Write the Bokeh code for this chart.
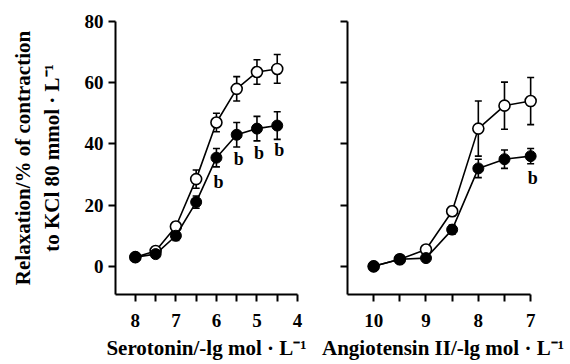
from bokeh.plotting import figure
from bokeh.layouts import row
from bokeh.models import (Range1d, FixedTicker, Whisker, ColumnDataSource, TeeHead,
                          CustomJSTickFormatter, LinearAxis)
from bokeh.core.properties import value
from bokeh.embed import file_html
from bokeh.resources import INLINE

# ---- data ----
ser_x = [8, 7.5, 7, 6.5, 6, 5.5, 5, 4.5]
ser_open = [3, 5, 13, 28.5, 47, 58, 63.5, 64.5]
ser_open_err = [1, 1, 1.5, 3, 3, 4, 4, 4.7]
ser_fill = [3, 4, 10, 21, 35.5, 43, 45, 46]
ser_fill_err = [1, 1, 1.5, 2, 3, 4, 4, 4.5]
ser_b_x = [6, 5.5, 5, 4.5]
ser_b_y = [35.5, 43, 45, 46]

ang_x = [10, 9.5, 9, 8.5, 8, 7.5, 7]
ang_open = [0, 2.3, 5.5, 18, 45, 52.5, 54]
ang_open_err = [1, 1, 1, 1.5, 9, 7.7, 7.7]
ang_fill = [0, 2.3, 2.7, 12, 32, 35, 36]
ang_fill_err = [1, 1, 1, 1.5, 3, 3, 2.5]
ang_b_x = [7]
ang_b_y = [36]

y_ticks = [0, 20, 40, 60, 80]
ser_major = [8, 7, 6, 5, 4]
ser_minor = [7.5, 6.5, 5.5, 4.5]
ang_major = [10, 9, 8, 7]
ang_minor = [9.5, 8.5, 7.5]

y_label_1 = "Relaxation/% of contraction"
y_label_2 = "to KCl 80 mmol · L⁻¹"
x_label_ser = "Serotonin/-lg mol · L⁻¹"
x_label_ang = "Angiotensin II/-lg mol · L⁻¹"

FONT = "Liberation Serif"
H = 362


def style_label(ax, text, standoff):
    ax.axis_label = text
    ax.axis_label_text_font = FONT
    ax.axis_label_text_font_style = "bold"
    ax.axis_label_text_font_size = "21px"
    ax.axis_label_text_color = "black"
    ax.axis_label_standoff = standoff


def style_axes(p, xmaj, xmin, show_ylabels):
    for ax in (p.xaxis[0], p.yaxis[0]):
        ax.axis_line_width = 2
        ax.major_tick_line_width = 2
        ax.minor_tick_line_width = 2
        ax.major_tick_in = 0
        ax.minor_tick_in = 0
        ax.major_tick_out = 7
        ax.minor_tick_out = 7
        ax.major_label_text_font = FONT
        ax.major_label_text_font_style = "bold"
        ax.major_label_text_font_size = "19px"
        ax.major_label_text_color = "black"
    p.xaxis[0].ticker = FixedTicker(ticks=xmaj, minor_ticks=xmin)
    p.yaxis[0].ticker = FixedTicker(ticks=y_ticks, minor_ticks=[])
    p.xaxis[0].major_label_standoff = 12
    p.yaxis[0].major_label_standoff = 5
    if not show_ylabels:
        p.yaxis[0].formatter = CustomJSTickFormatter(code="return ''")
    p.xgrid.visible = False
    p.ygrid.visible = False
    p.outline_line_color = None


def draw_series(p, x, yo, eo, yf, ef):
    so = ColumnDataSource(dict(x=x, y=yo, lo=[a - b for a, b in zip(yo, eo)],
                               hi=[a + b for a, b in zip(yo, eo)]))
    sf = ColumnDataSource(dict(x=x, y=yf, lo=[a - b for a, b in zip(yf, ef)],
                               hi=[a + b for a, b in zip(yf, ef)]))
    for s in (so, sf):
        w = Whisker(source=s, base="x", lower="lo", upper="hi", line_color="black",
                    line_width=1.6,
                    upper_head=TeeHead(size=7, line_width=1.6, line_color="black"),
                    lower_head=TeeHead(size=7, line_width=1.6, line_color="black"))
        p.add_layout(w)
    p.line("x", "y", source=so, line_color="black", line_width=1.6)
    p.scatter("x", "y", source=so, size=11, fill_color="white", line_color="black", line_width=1.6)
    p.line("x", "y", source=sf, line_color="black", line_width=1.6)
    p.scatter("x", "y", source=sf, size=11, fill_color="black", line_color="black")


# ---- left panel ----
p1 = figure(width=317, height=H, x_range=Range1d(8.49, 4.0), y_range=Range1d(-9.2, 80),
            output_backend="svg", toolbar_location=None,
            min_border_left=115, min_border_right=20, min_border_top=21, min_border_bottom=H - 21 - 273)
p1.background_fill_color = "white"
p1.border_fill_color = "white"
style_axes(p1, ser_major, ser_minor, True)
style_label(p1.yaxis[0], y_label_2, 18)
style_label(p1.xaxis[0], x_label_ser, 6)

extra = LinearAxis(ticker=FixedTicker(ticks=[]), axis_line_color=None,
                   major_tick_line_color=None, minor_tick_line_color=None)
style_label(extra, y_label_1, 2)
p1.add_layout(extra, "left")

draw_series(p1, ser_x, ser_open, ser_open_err, ser_fill, ser_fill_err)
p1.text(x=ser_b_x, y=ser_b_y, text=["b"] * len(ser_b_x), x_offset=2, y_offset=24,
        text_font=value(FONT), text_font_style="bold", text_font_size="18px",
        text_align="center", text_baseline="middle", text_color="black")

# ---- right panel ----
p2 = figure(width=253, height=H, x_range=Range1d(10.5, 6.85), y_range=Range1d(-9.2, 80),
            output_backend="svg", toolbar_location=None,
            min_border_left=30, min_border_right=32, min_border_top=21, min_border_bottom=H - 21 - 273)
p2.background_fill_color = "white"
p2.border_fill_color = "white"
style_axes(p2, ang_major, ang_minor, False)
p2.xaxis[0].bounds = (7, 10.5)
style_label(p2.xaxis[0], x_label_ang, 6)
draw_series(p2, ang_x, ang_open, ang_open_err, ang_fill, ang_fill_err)
p2.text(x=ang_b_x, y=ang_b_y, text=["b"] * len(ang_b_x), x_offset=2, y_offset=22,
        text_font=value(FONT), text_font_style="bold", text_font_size="18px",
        text_align="center", text_baseline="middle", text_color="black")

layout = row(p1, p2)
open("out.html", "w").write(file_html(layout, INLINE))
